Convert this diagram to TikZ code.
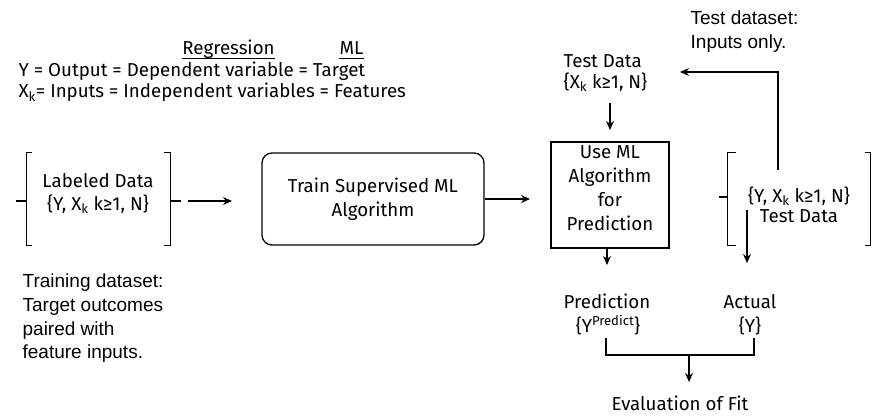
\documentclass[tikz,border=0pt]{standalone}
\usepackage{fontspec}
\setmainfont{Fira Sans}
\newfontfamily\notefont{Liberation Sans}
\usetikzlibrary{arrows.meta}
\begin{document}
\begin{tikzpicture}[x=1pt,y=-1pt,line width=1.3pt,
  txt/.style={inner sep=0pt,font=\fontsize{18.7}{24}\selectfont},
  note/.style={inner sep=0pt,font=\notefont\fontsize{19}{24}\selectfont},
  arr/.style={-{Stealth[length=9pt,width=8pt]}}]
\useasboundingbox (0,0) rectangle (872,415);

% top legend
\node[txt,anchor=base] (reg) at (228.5,54.5) {Regression};
\node[txt,anchor=base] (ml) at (351.5,54.5) {ML};
\draw[line width=1pt] ([yshift=-3.5pt]reg.base west) -- ([yshift=-3.5pt]reg.base east);
\draw[line width=1pt] ([yshift=-3.5pt]ml.base west) -- ([yshift=-3.5pt]ml.base east);
\node[txt,anchor=base west] (yline) at (18,76.5) {Y = Output = Dependent variable = Target};
\node[txt,anchor=base west] (xline) at (18,97.5) {X\textsubscript{k}= Inputs = Independent variables = Features};

% labeled data bracket
\node[inner sep=0pt,minimum width=143pt,minimum height=92pt] (lab) at (98.5,199) {};
\draw (lab.north west) ++(6,0) -- (lab.north west) -- (lab.south west) -- ++(6,0);
\draw (lab.north east) ++(-7,0) -- (lab.north east) -- (lab.south east) -- ++(-7,0);
\draw (lab.west) ++(-10,2) -- ++(10,0);
\draw (lab.east) ++(0,2) -- ++(10,0);
\node[txt,anchor=base] (lab1) at (98,187) {Labeled Data};
\node[txt,anchor=base] (lab2) at (98,210) {\{Y, X\textsubscript{k} k≥1, N\}};
\coordinate (a1s) at (188,201);
\coordinate (a1e) at (232,201);
\draw[arr] (a1s) -- (a1e);

% train box
\node[draw,rounded corners=10pt,minimum width=222pt,minimum height=92pt,inner sep=0pt] (train) at (373,199) {};
\node[txt,anchor=base] (tr1) at (373,192) {Train Supervised ML};
\node[txt,anchor=base] (tr2) at (373,216) {Algorithm};
\coordinate (a2e) at (530,199);
\draw[arr] (train.east) -- (a2e);

% use ML box
\node[draw,minimum width=118pt,minimum height=106pt,inner sep=0pt] (use) at (610,195) {};
\node[txt,anchor=base] (u1) at (610,158) {Use ML};
\node[txt,anchor=base] (u2) at (610,182) {Algorithm};
\node[txt,anchor=base] (u3) at (610,206) {for};
\node[txt,anchor=base] (u4) at (610,230) {Prediction};

% test data top
\node[txt,anchor=base west] (td1) at (563,67) {Test Data};
\node[txt,anchor=base west] (td2) at (563,88) {\{X\textsubscript{k} k≥1, N\}};
\coordinate (a3s) at (610,103);
\coordinate (a3e) at (610,130);
\draw[arr] (a3s) -- (a3e);
\node[note,anchor=base west] (tds1) at (690,24) {Test dataset:};
\node[note,anchor=base west] (tds2) at (690,48) {Inputs only.};

% right bracket
\node[inner sep=0pt,minimum width=142pt,minimum height=92pt] (rb) at (799,199) {};
\draw (rb.north west) ++(9,0) -- (rb.north west) -- (rb.south west) -- ++(9,0);
\draw (rb.north east) ++(-6,0) -- (rb.north east) -- (rb.south east) -- ++(-6,0);
\draw (rb.west) ++(-8,-2) -- ++(8,0);
\node[txt,anchor=base] (rb1) at (799,202) {\{Y, X\textsubscript{k} k≥1, N\}};
\node[txt,anchor=base] (rb2) at (799,222) {Test Data};
\coordinate (fbs) at (778,170);
\coordinate (fbc) at (778,72);
\coordinate (fbe) at (680,72);
\draw[arr] (fbs) -- (fbc) -- (fbe);
\coordinate (a4s) at (747,210);
\coordinate (a4e) at (747,263);
\draw[arr] (a4s) -- (a4e);

% prediction / actual
\coordinate (a5e) at (607,265);
\draw[arr] (use.south -| a5e) -- (a5e);
\node[txt,anchor=base] (pr1) at (607,308) {Prediction};
\node[txt,anchor=base] (pr2) at (608,332) {\{Y\textsuperscript{Predict}\}};
\node[txt,anchor=base] (ac1) at (750,308) {Actual};
\node[txt,anchor=base] (ac2) at (750,332) {\{Y\}};
\coordinate (jl) at (606,338);
\coordinate (jr) at (754,338);
\coordinate (jm) at (689,355);
\coordinate (a6e) at (689,382);
\draw (jl) -- (jl |- jm) -- (jr |- jm) -- (jr);
\draw[arr] (jm) -- (a6e);
\node[txt,anchor=base] (ev) at (680,410.5) {Evaluation of Fit};

% training dataset text
\node[note,anchor=base west] (tn1) at (22,287) {Training dataset:};
\node[note,anchor=base west] (tn2) at (22,311) {Target outcomes};
\node[note,anchor=base west] (tn3) at (22,335) {paired with};
\node[note,anchor=base west] (tn4) at (22,358) {feature inputs.};
\end{tikzpicture}
\end{document}
